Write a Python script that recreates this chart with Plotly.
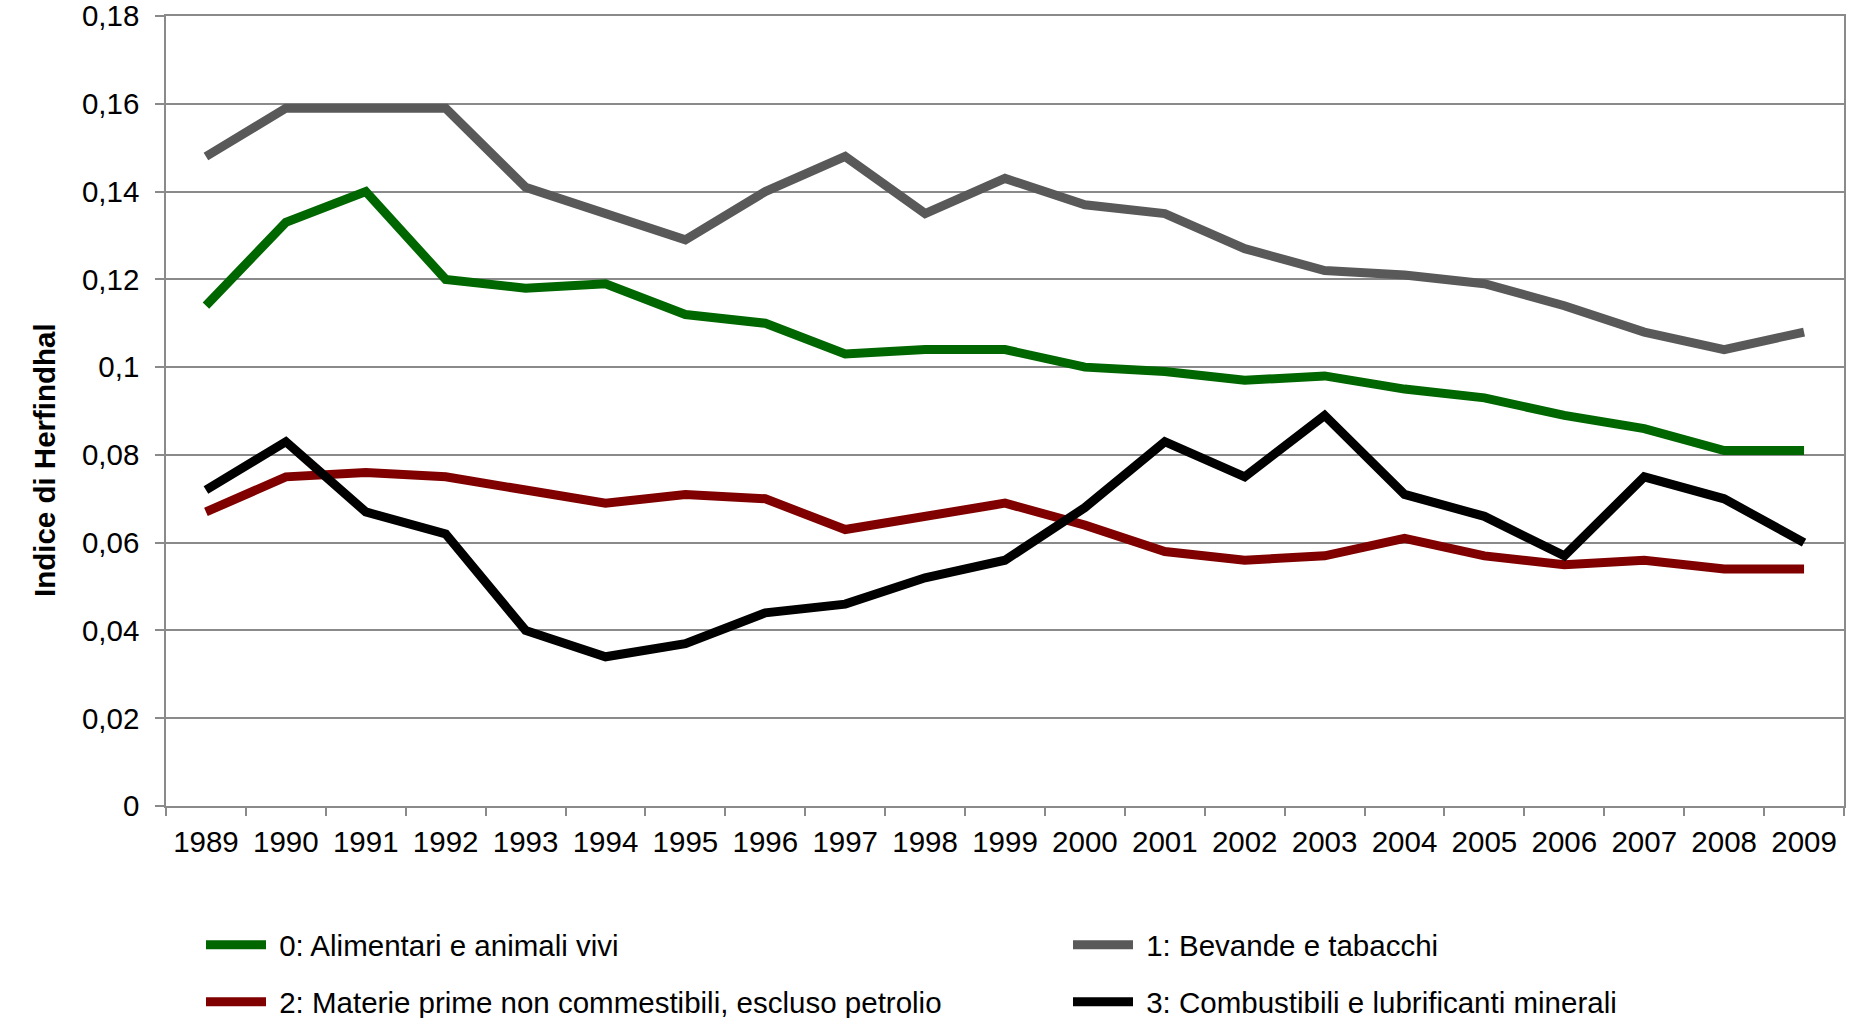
import plotly.graph_objects as go

years = [str(y) for y in range(1989, 2010)]

alimentari = [0.114, 0.133, 0.140, 0.120, 0.118, 0.119, 0.112, 0.110, 0.103, 0.104, 0.104,
              0.100, 0.099, 0.097, 0.098, 0.095, 0.093, 0.089, 0.086, 0.081, 0.081]
bevande = [0.148, 0.159, 0.159, 0.159, 0.141, 0.135, 0.129, 0.140, 0.148, 0.135, 0.143,
           0.137, 0.135, 0.127, 0.122, 0.121, 0.119, 0.114, 0.108, 0.104, 0.108]
materie = [0.067, 0.075, 0.076, 0.075, 0.072, 0.069, 0.071, 0.070, 0.063, 0.066, 0.069,
           0.064, 0.058, 0.056, 0.057, 0.061, 0.057, 0.055, 0.056, 0.054, 0.054]
combustibili = [0.072, 0.083, 0.067, 0.062, 0.040, 0.034, 0.037, 0.044, 0.046, 0.052, 0.056,
                0.068, 0.083, 0.075, 0.089, 0.071, 0.066, 0.057, 0.075, 0.070, 0.060]

series_names = ["0: Alimentari e animali vivi", "1: Bevande e tabacchi",
                "2: Materie prime non commestibili, escluso petrolio",
                "3: Combustibili e lubrificanti minerali"]
series_values = [alimentari, bevande, materie, combustibili]
series_colors = ["#006600", "#595959", "#800000", "#000000"]
series_legends = ["legend", "legend2", "legend3", "legend4"]

y_ticks = [0, 0.02, 0.04, 0.06, 0.08, 0.1, 0.12, 0.14, 0.16, 0.18]
y_ticktext = [("%g" % v).replace(".", ",") for v in y_ticks]

FONT = "Liberation Sans, Arial, sans-serif"
FS = 29.5
W, H = 1857, 1018
L, R, T, B = 166, 13, 16, 212
plot_w = W - L - R
plot_h = H - T - B

fig = go.Figure()
for name, vals, col, lg in zip(series_names, series_values, series_colors, series_legends):
    fig.add_trace(go.Scatter(x=years, y=vals, mode="lines", name="\u00a0" + name,
                             line=dict(color=col, width=9), legend=lg))

grid_col = "#8a8a8a"

def legend_at(px, py):
    return dict(orientation="v", xref="container", yref="container",
                x=px / W, xanchor="left", y=1 - py / H, yanchor="middle",
                itemwidth=60, font=dict(size=FS, family=FONT, color="black"),
                bgcolor="rgba(0,0,0,0)", borderwidth=0)

fig.update_layout(
    width=W, height=H,
    margin=dict(l=L, r=R, t=T, b=B, autoexpand=False),
    paper_bgcolor="white", plot_bgcolor="white",
    font=dict(family=FONT, size=FS, color="black"),
    xaxis=dict(type="category", range=[-0.5, 20.5], tickson="boundaries",
               ticks="outside", ticklen=8, tickwidth=1.5, tickcolor=grid_col,
               ticklabelstandoff=9, automargin=False,
               showline=True, linecolor=grid_col, linewidth=1.5, mirror=True,
               showgrid=False, tickfont=dict(size=FS, family=FONT)),
    yaxis=dict(range=[0, 0.18001], tickvals=y_ticks, ticktext=y_ticktext,
               ticks="outside", ticklen=9, tickwidth=1.5, tickcolor=grid_col,
               ticklabelstandoff=10, automargin=False, ticklabeloverflow="allow",
               showline=True, linecolor=grid_col, linewidth=1.5, mirror=True,
               showgrid=True, gridcolor=grid_col, gridwidth=1.5, zeroline=False,
               tickfont=dict(size=FS, family=FONT)),
    legend=legend_at(201, 945),
    legend2=legend_at(1068, 945),
    legend3=legend_at(201, 1002),
    legend4=legend_at(1068, 1002),
    showlegend=True,
)

fig.add_annotation(text="<b>Indice di Herfindhal</b>", textangle=-90,
                   xref="paper", yref="paper",
                   x=(44 - L) / plot_w, y=(H - B - 460) / plot_h,
                   xanchor="center", yanchor="middle", showarrow=False,
                   font=dict(size=FS, family=FONT, color="black"))

fig.write_html("out.html", config={"displayModeBar": False},
               post_script="document.body.style.margin='0px';document.body.style.overflow='hidden';")
